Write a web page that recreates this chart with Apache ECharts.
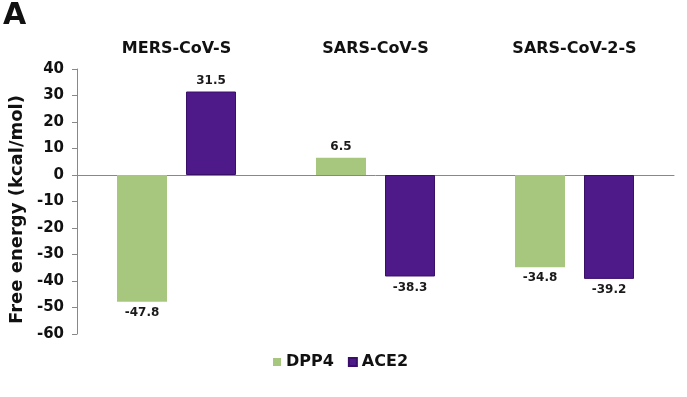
<!DOCTYPE html>
<html>
<head>
<meta charset="utf-8">
<script src="https://cdn.jsdelivr.net/npm/echarts@6/dist/echarts.min.js"></script>
<style>
  html, body { margin: 0; padding: 0; background: #fff; }
  #chart { width: 687px; height: 397px; }
</style>
</head>
<body>
<div id="chart"></div>
<script>
const categories = ['MERS-CoV-S', 'SARS-CoV-S', 'SARS-CoV-2-S']
const dpp4 = [-47.8, 6.5, -34.8]
const ace2 = [31.5, -38.3, -39.2]

const FONT = 'DejaVu Sans'

// label goes above positive bars and below negative ones
const withLabels = vals => vals.map(v => ({
  value: v,
  label: { position: v < 0 ? 'bottom' : 'top' }
}))

const barLabel = {
  show: true,
  distance: 5,
  fontFamily: FONT,
  fontWeight: 'bold',
  fontSize: 12,
  color: '#1a1a1a',
  formatter: p => p.value.toFixed(1)
}

var myChart = echarts.init(document.getElementById('chart'))

const option = {
  animation: false,
  backgroundColor: '#fff',
  title: {
    text: 'A',
    left: -2,
    top: -4,
    textStyle: { fontFamily: FONT, fontWeight: 'bold', fontSize: 30, color: '#111' }
  },
  legend: {
    data: ['DPP4', 'ACE2'],
    left: 268,
    top: 349,
    itemWidth: 8,
    itemHeight: 8,
    itemGap: 14,
    icon: 'rect',
    textStyle: { fontFamily: FONT, fontWeight: 'bold', fontSize: 16, color: '#111' }
  },
  grid: {
    left: 77,
    right: 13,
    top: 69,
    bottom: 63
  },
  xAxis: [
    {
      type: 'category',
      data: categories,
      position: 'bottom',
      axisLine: { onZero: true, lineStyle: { color: '#888', width: 1 } },
      axisTick: { show: false },
      axisLabel: { show: false }
    },
    {
      type: 'category',
      data: categories,
      position: 'top',
      axisLine: { show: false, onZero: false },
      axisTick: { show: false },
      axisLabel: {
        margin: 12,
        fontFamily: FONT,
        fontWeight: 'bold',
        fontSize: 16,
        color: '#111'
      }
    }
  ],
  yAxis: {
    type: 'value',
    min: -60,
    max: 40,
    interval: 10,
    name: 'Free energy (kcal/mol)',
    nameLocation: 'middle',
    nameRotate: 90,
    nameGap: 50,
    nameTextStyle: {
      fontFamily: FONT, fontWeight: 'bold', fontSize: 18, color: '#111',
      padding: [0, 16, 0, 0]
    },
    axisLine: { show: true, lineStyle: { color: '#888', width: 1 } },
    axisTick: { show: true, length: 5, lineStyle: { color: '#888' } },
    splitLine: { show: false },
    axisLabel: {
      margin: 13,
      fontFamily: FONT,
      fontWeight: 'bold',
      fontSize: 15,
      color: '#111'
    }
  },
  series: [
    {
      name: 'DPP4',
      type: 'bar',
      xAxisIndex: 0,
      barWidth: 50,
      barGap: '38%',
      itemStyle: { color: '#a7c77f' },
      label: barLabel,
      data: withLabels(dpp4)
    },
    {
      name: 'ACE2',
      type: 'bar',
      xAxisIndex: 0,
      barWidth: 50,
      itemStyle: { color: '#4e1a8a', borderColor: '#3a0f6a', borderWidth: 1 },
      label: barLabel,
      data: withLabels(ace2)
    }
  ]
}

myChart.setOption(option)
</script>
</body>
</html>
